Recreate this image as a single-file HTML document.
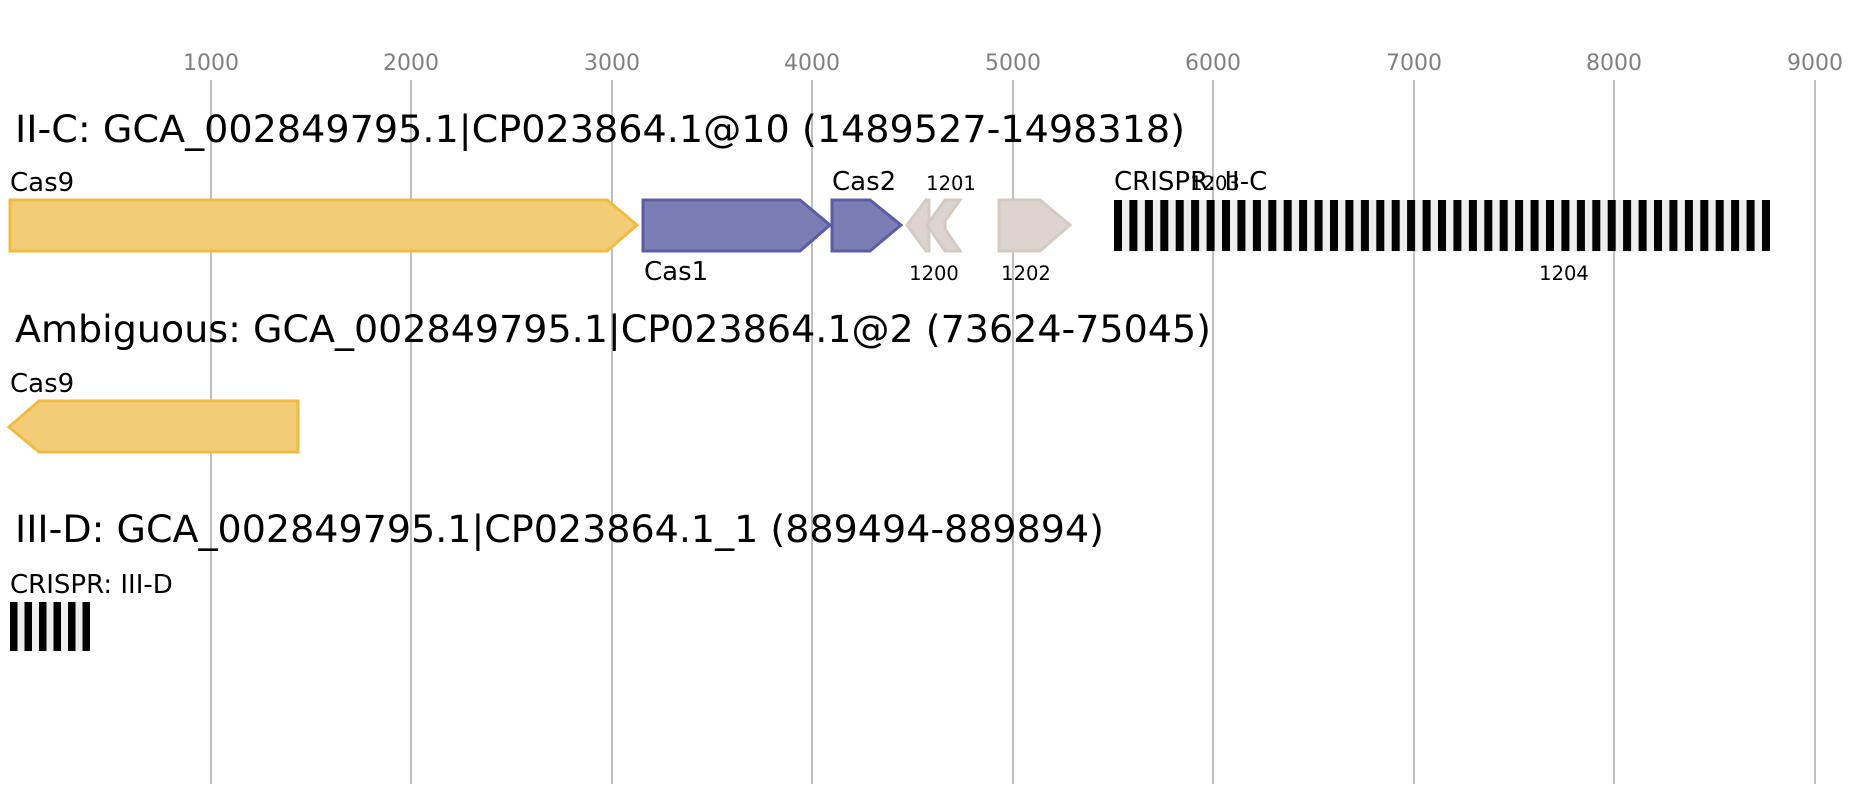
<!DOCTYPE html>
<html><head><meta charset="utf-8"><style>body{margin:0;background:#fff}svg{display:block}text{font-family:"DejaVu Sans","Liberation Sans",sans-serif}</style></head><body>
<svg width="1858" height="800" viewBox="0 0 1858 800" xmlns="http://www.w3.org/2000/svg">
<g stroke="#bfbfbf" stroke-width="2">
<line x1="211" y1="80" x2="211" y2="784"/><line x1="411" y1="80" x2="411" y2="784"/><line x1="612" y1="80" x2="612" y2="784"/><line x1="812" y1="80" x2="812" y2="784"/><line x1="1013" y1="80" x2="1013" y2="784"/><line x1="1213" y1="80" x2="1213" y2="784"/><line x1="1414" y1="80" x2="1414" y2="784"/><line x1="1614" y1="80" x2="1614" y2="784"/><line x1="1815" y1="80" x2="1815" y2="784"/>
</g>
<g fill="#808080" font-size="22" text-anchor="middle">
<text x="211" y="70">1000</text><text x="411" y="70">2000</text><text x="612" y="70">3000</text><text x="812" y="70">4000</text><text x="1013" y="70">5000</text><text x="1213" y="70">6000</text><text x="1414" y="70">7000</text><text x="1614" y="70">8000</text><text x="1815" y="70">9000</text>
</g>
<g font-size="37" fill="#000">
<text x="15" y="142" textLength="1170" lengthAdjust="spacingAndGlyphs">II-C: GCA_002849795.1|CP023864.1@10 (1489527-1498318)</text>
<text x="15" y="342" textLength="1196" lengthAdjust="spacingAndGlyphs">Ambiguous: GCA_002849795.1|CP023864.1@2 (73624-75045)</text>
<text x="15" y="542" textLength="1089" lengthAdjust="spacingAndGlyphs">III-D: GCA_002849795.1|CP023864.1_1 (889494-889894)</text>
</g>
<g stroke-width="3">
<polygon points="10,200 607,200 637,225 607,251 10,251" fill="#f2cd76" stroke="#efbb45"/>
<polygon points="643,200 800,200 830,225 800,251 643,251" fill="#7b7eb5" stroke="#5a5da6"/>
<polygon points="832,200 870,200 901,225 870,251 832,251" fill="#7b7eb5" stroke="#5a5da6"/>
<polygon points="907,225 926,200 929,200 929,251 926,251" fill="#dcd4cf" stroke="#d5cac3"/>
<polygon points="927,225 945,200 960,200 945,221 945,229 960,251 945,251" fill="#dcd4cf" stroke="#d5cac3"/>
<polygon points="999,200 1040,200 1070,225 1040,251 999,251" fill="#dcd4cf" stroke="#d5cac3"/>
<polygon points="9,427 39,401 298,401 298,452 39,452" fill="#f2cd76" stroke="#efbb45"/>
</g>
<rect x="1114" y="200" width="656" height="51" fill="#eee"/>
<rect x="10" y="602" width="80" height="49" fill="#eee"/>
<g font-size="26" fill="#000">
<text x="10" y="191">Cas9</text><text x="644" y="280">Cas1</text><text x="832" y="190">Cas2</text><text x="1114" y="190">CRISPR: II-C</text>
<text x="10" y="392">Cas9</text><text x="10" y="593">CRISPR: III-D</text>
</g>
<g font-size="19.5" fill="#000" text-anchor="middle">
<text x="951" y="190">1201</text><text x="934" y="280">1200</text><text x="1026" y="280">1202</text><text x="1215" y="190">1203</text><text x="1564" y="280">1204</text>
</g>
<g fill="#000">
<rect x="10" y="602" width="7.5" height="49"/><rect x="24.5" y="602" width="7.5" height="49"/><rect x="39" y="602" width="7.5" height="49"/><rect x="53.5" y="602" width="7.5" height="49"/><rect x="68" y="602" width="7.5" height="49"/><rect x="82.5" y="602" width="7.5" height="49"/>
</g>
<g fill="#000">
<rect x="1114.0" y="200" width="8" height="51"/><rect x="1129.4" y="200" width="8" height="51"/><rect x="1144.9" y="200" width="8" height="51"/><rect x="1160.3" y="200" width="8" height="51"/><rect x="1175.7" y="200" width="8" height="51"/><rect x="1191.1" y="200" width="8" height="51"/><rect x="1206.6" y="200" width="8" height="51"/><rect x="1222.0" y="200" width="8" height="51"/><rect x="1237.4" y="200" width="8" height="51"/><rect x="1252.9" y="200" width="8" height="51"/><rect x="1268.3" y="200" width="8" height="51"/><rect x="1283.7" y="200" width="8" height="51"/><rect x="1299.1" y="200" width="8" height="51"/><rect x="1314.6" y="200" width="8" height="51"/><rect x="1330.0" y="200" width="8" height="51"/><rect x="1345.4" y="200" width="8" height="51"/><rect x="1360.9" y="200" width="8" height="51"/><rect x="1376.3" y="200" width="8" height="51"/><rect x="1391.7" y="200" width="8" height="51"/><rect x="1407.1" y="200" width="8" height="51"/><rect x="1422.6" y="200" width="8" height="51"/><rect x="1438.0" y="200" width="8" height="51"/><rect x="1453.4" y="200" width="8" height="51"/><rect x="1468.9" y="200" width="8" height="51"/><rect x="1484.3" y="200" width="8" height="51"/><rect x="1499.7" y="200" width="8" height="51"/><rect x="1515.1" y="200" width="8" height="51"/><rect x="1530.6" y="200" width="8" height="51"/><rect x="1546.0" y="200" width="8" height="51"/><rect x="1561.4" y="200" width="8" height="51"/><rect x="1576.9" y="200" width="8" height="51"/><rect x="1592.3" y="200" width="8" height="51"/><rect x="1607.7" y="200" width="8" height="51"/><rect x="1623.1" y="200" width="8" height="51"/><rect x="1638.6" y="200" width="8" height="51"/><rect x="1654.0" y="200" width="8" height="51"/><rect x="1669.4" y="200" width="8" height="51"/><rect x="1684.9" y="200" width="8" height="51"/><rect x="1700.3" y="200" width="8" height="51"/><rect x="1715.7" y="200" width="8" height="51"/><rect x="1731.1" y="200" width="8" height="51"/><rect x="1746.6" y="200" width="8" height="51"/><rect x="1762.0" y="200" width="8" height="51"/>
</g>
</svg>
</body></html>
